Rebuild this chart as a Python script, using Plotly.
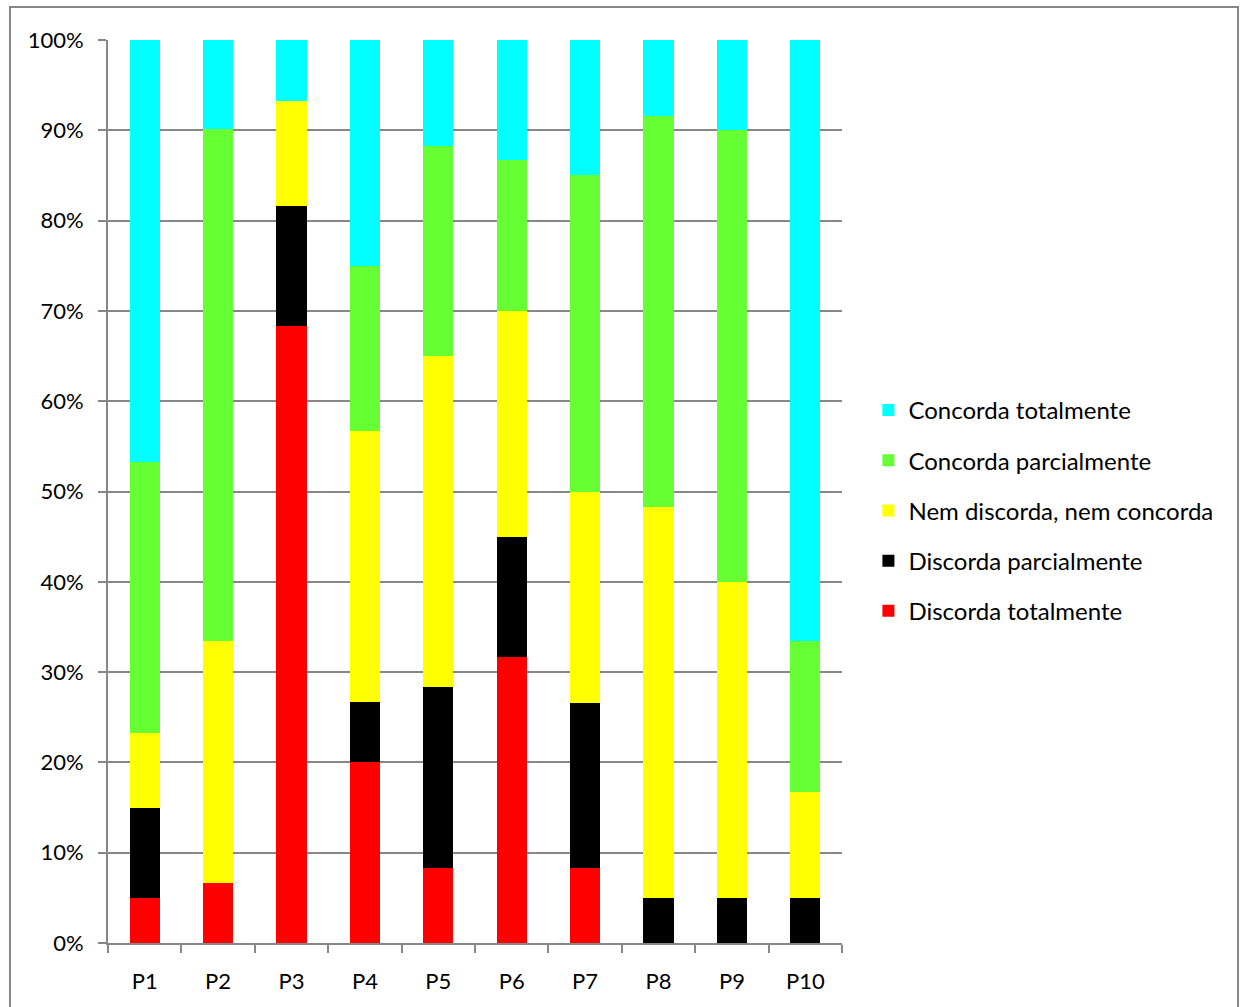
import plotly.graph_objects as go

# Question labels
questions = ["P1", "P2", "P3", "P4", "P5", "P6", "P7", "P8", "P9", "P10"]

# Share of answers per category (percent), bottom to top of each stack
discorda_totalmente = [5.0, 6.7, 68.3, 20.0, 8.3, 31.7, 8.3, 0.0, 0.0, 0.0]
discorda_parcialmente = [10.0, 0.0, 13.3, 6.7, 20.0, 13.3, 18.3, 5.0, 5.0, 5.0]
nem_discorda_nem_concorda = [8.3, 26.7, 11.7, 30.0, 36.7, 25.0, 23.4, 43.3, 35.0, 11.7]
concorda_parcialmente = [30.0, 56.7, 0.0, 18.3, 23.3, 16.7, 35.0, 43.3, 50.0, 16.7]
concorda_totalmente = [46.7, 10.0, 6.7, 25.0, 11.7, 13.3, 15.0, 8.4, 10.0, 66.7]

series = [
    ("Discorda totalmente", discorda_totalmente, "#FF0000"),
    ("Discorda parcialmente", discorda_parcialmente, "#000000"),
    ("Nem discorda, nem concorda", nem_discorda_nem_concorda, "#FFFF00"),
    ("Concorda parcialmente", concorda_parcialmente, "#66FF33"),
    ("Concorda totalmente", concorda_totalmente, "#00FFFF"),
]

FONT = "Lato"
GRID = "#878787"

fig = go.Figure()
for i, (name, vals, color) in enumerate(series):
    fig.add_trace(go.Bar(
        x=questions,
        y=[v / 100 for v in vals],
        name=name,
        legendgroup=name,
        legendrank=1000 - i,  # top of the stack listed first
        marker=dict(color=color, line=dict(width=0)),
    ))

fig.update_layout(
    barmode="stack",
    bargap=0.59,
    width=1245,
    height=1007,
    margin=dict(l=108, r=403, t=40, b=64),
    paper_bgcolor="white",
    plot_bgcolor="white",
    font=dict(family=FONT, size=22, color="black"),
    showlegend=True,
    legend=dict(
        traceorder="grouped",
        tracegroupgap=16,
        x=1.036, xanchor="left",
        y=0.479, yanchor="middle",
        font=dict(family=FONT, size=24, color="black"),
        itemwidth=30,
        bgcolor="rgba(0,0,0,0)",
    ),
    xaxis=dict(
        showline=True, linecolor=GRID, linewidth=2,
        ticks="outside", tickson="boundaries", ticklen=8, tickcolor=GRID, tickwidth=2,
        ticklabelstandoff=18,
        showgrid=False,
    ),
    yaxis=dict(
        range=[0, 1],
        tickformat=".0%",
        dtick=0.1,
        showline=True, linecolor=GRID, linewidth=2,
        ticks="outside", ticklen=8, tickcolor=GRID, tickwidth=2,
        ticklabelstandoff=10,
        showgrid=True, gridcolor=GRID, gridwidth=2,
        zeroline=False,
    ),
    shapes=[dict(
        type="rect", xref="paper", yref="paper",
        x0=-0.1335, x1=1.5395, y0=-0.08, y1=1.0365,
        line=dict(color=GRID, width=2),
        fillcolor="rgba(0,0,0,0)",
        layer="below",
    )],
)

fig.write_html("out.html")
